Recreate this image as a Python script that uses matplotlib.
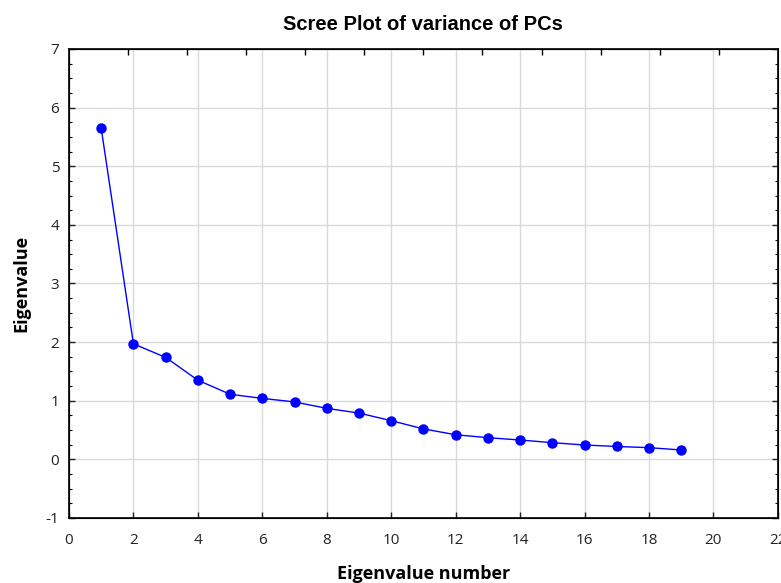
import numpy as np
import matplotlib
matplotlib.use('Agg')
import matplotlib.pyplot as plt
from matplotlib.ticker import MultipleLocator

# eigenvalues
pc_number = [1, 2, 3, 4, 5, 6, 7, 8, 9, 10, 11, 12, 13, 14, 15, 16, 17, 18, 19]
eigenvalues = [5.65, 1.97, 1.74, 1.35, 1.11, 1.04, 0.98, 0.87, 0.79, 0.66,
               0.52, 0.42, 0.37, 0.33, 0.285, 0.245, 0.22, 0.20, 0.16]

plt.rcParams['font.family'] = ['Open Sans', 'DejaVu Sans']
plt.rcParams['axes.unicode_minus'] = False

fig = plt.figure(figsize=(7.81, 5.83), dpi=100)
ax = fig.add_axes([0.0883, 0.1115, 0.9077, 0.8045])

ax.plot(pc_number, eigenvalues, color='#0000ff', lw=1.0, marker='o',
        markersize=6.5, zorder=3)

ax.set_xlim(0, 22)
ax.set_ylim(-1, 7)
ax.xaxis.set_major_locator(MultipleLocator(2))
ax.yaxis.set_major_locator(MultipleLocator(1))
ax.yaxis.set_minor_locator(MultipleLocator(0.25))

ax.grid(True, which='major', color='#d9d9d9', lw=1.0)
ax.set_axisbelow(True)

ax.tick_params(axis='both', which='major', direction='in', length=4,
               width=1, labelsize=11, colors='#222222')
ax.tick_params(axis='x', pad=11)
ax.tick_params(axis='y', pad=7)
ax.tick_params(axis='y', which='both', right=True, direction='in')
ax.tick_params(axis='y', which='minor', length=2, width=0.8)
for s in ax.spines.values():
    s.set_linewidth(1.2)

# top axis has its own 12 evenly spaced ticks
top = ax.twiny()
top.set_xlim(0, 12)
top.set_xticks(np.arange(1, 12))
top.tick_params(axis='x', direction='in', length=4, width=1, labeltop=False)

ax.set_title('Scree Plot of variance of PCs', fontsize=14.5, fontweight='bold',
             family='Liberation Sans', pad=14)
ax.set_xlabel('Eigenvalue number', fontsize=13, fontweight='bold', labelpad=12)
ax.set_ylabel('Eigenvalue', fontsize=13, fontweight='bold', labelpad=11)

fig.savefig('out.png', dpi=100)
